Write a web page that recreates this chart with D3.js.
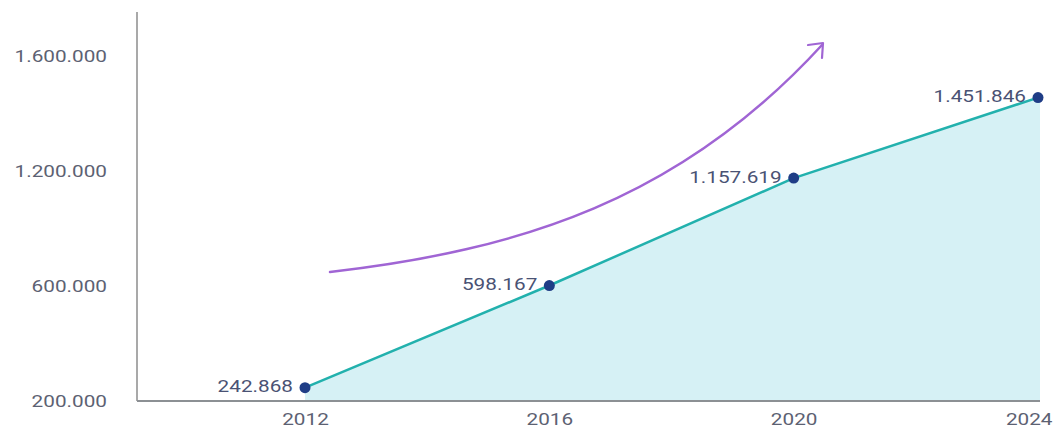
<!DOCTYPE html>
<html>
<head>
<meta charset="utf-8">
<script src="https://cdn.jsdelivr.net/npm/d3@7"></script>
<style>
  html, body { margin: 0; padding: 0; background: #ffffff; }
  svg { display: block; }
  text { font-family: Roboto, "Noto Sans", sans-serif; }
</style>
</head>
<body>
<svg id="chart" width="1059" height="432"></svg>
<script>
// ---- data ----
const years = [2012, 2016, 2020, 2024];
const values = [242868, 598167, 1157619, 1451846];
const yTicks = [200000, 600000, 1200000, 1600000];

// ---- layout / style ----
const W = 1059, H = 432;
const axisX = 137, axisTop = 12, baseY = 401, plotTop = 55, axisRight = 1040;
const stretch = 1.22;            // text in the reference is horizontally stretched
const fontSize = 17;

const loc = d3.formatLocale({ decimal: ",", thousands: ".", grouping: [3], currency: ["", ""] });
const fmt = loc.format(",d");

const svg = d3.select("#chart");

const x = d3.scaleLinear().domain([2012, 2024]).range([305, 1038]);
// tick labels on the reference are evenly spaced, so the scale is piecewise linear between them
const y = d3.scaleLinear()
  .domain(yTicks)
  .range(yTicks.map((d, i) => baseY - 1 - i * (baseY - 1 - plotTop) / (yTicks.length - 1)));

const data = years.map((yr, i) => ({ year: yr, value: values[i] }));

// area
const area = d3.area()
  .x(d => x(d.year))
  .y0(y(yTicks[0]))
  .y1(d => y(d.value));
svg.append("path")
  .datum(data)
  .attr("d", area)
  .attr("fill", "#d6f1f5");

// extend fill to axis right end
svg.append("rect")
  .attr("x", x(2024))
  .attr("y", y(values[values.length - 1]))
  .attr("width", axisRight - x(2024))
  .attr("height", y(yTicks[0]) - y(values[values.length - 1]))
  .attr("fill", "#d6f1f5");

// line
const line = d3.line().x(d => x(d.year)).y(d => y(d.value));
svg.append("path")
  .datum(data)
  .attr("d", line)
  .attr("fill", "none")
  .attr("stroke", "#22b1ad")
  .attr("stroke-width", 2.5);

// axes
const yAxis = d3.axisLeft(y).tickValues(yTicks).tickFormat(fmt).tickSize(0).tickPadding(30);
const gy = svg.append("g").attr("transform", `translate(${axisX},0)`).call(yAxis);
gy.select(".domain").remove();
gy.selectAll(".tick text")
  .attr("x", null).attr("dy", "0.36em")
  .attr("transform", "translate(-30,0) scale(" + stretch + ",1)")
  .attr("fill", "#5c6172")
  .style("font-size", fontSize + "px")
  .style("font-family", "Roboto, sans-serif");

const xAxis = d3.axisBottom(x).tickValues(years).tickFormat(d3.format("d")).tickSize(0).tickPadding(12);
const gx = svg.append("g").attr("transform", `translate(0,${baseY})`).call(xAxis);
gx.select(".domain").remove();
gx.selectAll(".tick text")
  .attr("y", null).attr("dy", "1.02em")
  .attr("transform", (d, i) => (i === years.length - 1)
      ? "translate(14,7) scale(" + stretch + ",1)"
      : "translate(0,7) scale(" + stretch + ",1)")
  .attr("text-anchor", (d, i) => i === years.length - 1 ? "end" : "middle")
  .attr("fill", "#5c6172")
  .style("font-size", fontSize + "px")
  .style("font-family", "Roboto, sans-serif");

svg.append("line")
  .attr("x1", axisX).attr("x2", axisX)
  .attr("y1", axisTop).attr("y2", baseY)
  .attr("stroke", "#8c8c8c").attr("stroke-width", 1.5);
svg.append("line")
  .attr("x1", axisX).attr("x2", axisRight)
  .attr("y1", baseY).attr("y2", baseY)
  .attr("stroke", "#8c9094").attr("stroke-width", 2);

// trend arrow (annotation)
const p = d3.path();
p.moveTo(330, 272);
p.bezierCurveTo(520, 250, 680, 200, 822, 45);
svg.append("path")
  .attr("d", p.toString())
  .attr("fill", "none")
  .attr("stroke", "#a065d4")
  .attr("stroke-width", 2.5)
  .attr("stroke-linecap", "round");
const head = d3.path();
head.moveTo(808, 45);
head.lineTo(823, 43);
head.lineTo(822, 58);
svg.append("path")
  .attr("d", head.toString())
  .attr("fill", "none")
  .attr("stroke", "#a065d4")
  .attr("stroke-width", 2.2)
  .attr("stroke-linecap", "round")
  .attr("stroke-linejoin", "round");

// points
svg.selectAll("circle.pt")
  .data(data).enter().append("circle")
  .attr("class", "pt")
  .attr("cx", d => x(d.year))
  .attr("cy", d => y(d.value))
  .attr("r", 5.5)
  .attr("fill", "#1f3d86");

// value labels
svg.selectAll("text.val")
  .data(data).enter().append("text")
  .attr("class", "val")
  .attr("text-anchor", "end")
  .attr("dy", "0.34em")
  .attr("transform", d => `translate(${x(d.year) - 12},${y(d.value) - 1}) scale(${stretch},1)`)
  .attr("fill", "#4a5274")
  .style("font-size", fontSize + "px")
  .text(d => fmt(d.value));
</script>
</body>
</html>
